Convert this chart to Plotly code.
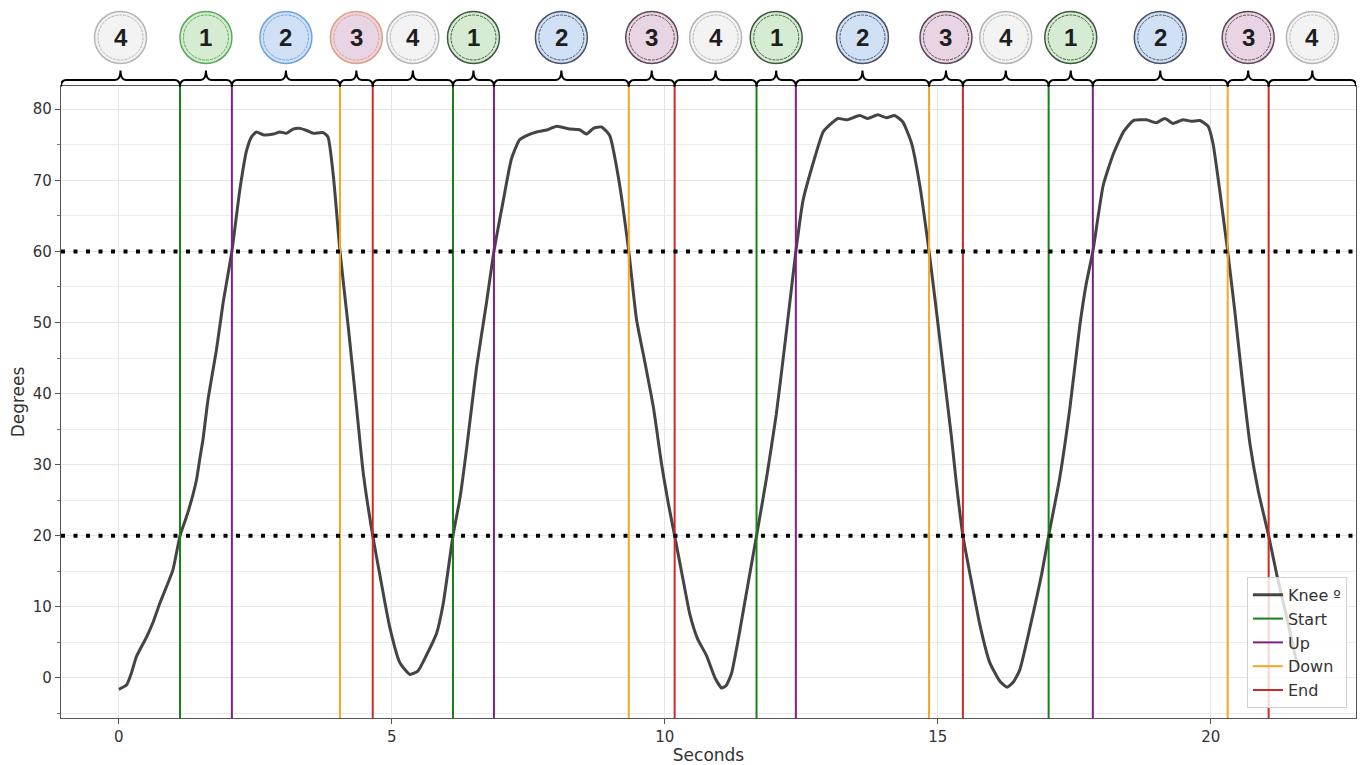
import plotly.graph_objects as go

# ---------------- data ----------------
seconds = [0.00, 0.14, 0.23, 0.32, 0.38, 0.51, 0.63, 0.75, 0.87, 0.99, 1.12, 1.24, 1.33, 1.42, 1.48, 1.54,
           1.63, 1.79, 1.91, 2.07, 2.22, 2.34, 2.43, 2.52, 2.64, 2.83, 2.95, 3.07, 3.19, 3.32, 3.44, 3.56,
           3.74, 3.83, 3.93, 4.05, 4.20, 4.35, 4.48, 4.65, 4.78, 4.96, 5.15, 5.33, 5.48, 5.64, 5.82, 5.94,
           6.12, 6.25, 6.37, 6.55, 6.73, 6.87, 7.04, 7.19, 7.34, 7.50, 7.65, 7.85, 8.02, 8.26, 8.44, 8.57,
           8.69, 8.84, 8.99, 9.15, 9.34, 9.48, 9.63, 9.79, 9.94, 10.06, 10.18, 10.33, 10.46, 10.60, 10.76,
           10.92, 11.04, 11.12, 11.22, 11.37, 11.53, 11.68, 11.86, 12.04, 12.20, 12.30, 12.40, 12.53, 12.72,
           12.90, 13.05, 13.17, 13.33, 13.57, 13.72, 13.90, 14.06, 14.21, 14.36, 14.52, 14.67, 14.84, 14.95,
           15.10, 15.25, 15.34, 15.46, 15.62, 15.77, 15.95, 16.14, 16.27, 16.38, 16.50, 16.75, 16.90, 17.03,
           17.23, 17.42, 17.60, 17.72, 17.84, 18.03, 18.21, 18.40, 18.58, 18.82, 19.00, 19.16, 19.31, 19.49,
           19.65, 19.80, 19.95, 20.04, 20.16, 20.31, 20.44, 20.57, 20.72, 20.87, 21.06, 21.21, 21.39, 21.54,
           21.60]
knee_deg = [-1.6, -1.0, 0.7, 3.0, 3.9, 5.8, 7.9, 10.5, 12.8, 15.2, 20.0, 22.7, 25.0, 27.8, 30.7, 33.5,
            39.0, 46.3, 52.8, 60.0, 68.9, 74.2, 76.1, 76.8, 76.4, 76.5, 76.8, 76.6, 77.2, 77.3, 77.0, 76.6,
            76.7, 76.1, 70.5, 60.0, 49.5, 38.3, 28.6, 20.0, 14.5, 7.2, 2.1, 0.5, 1.0, 3.3, 6.3, 10.4,
            20.0, 25.4, 32.3, 43.6, 52.6, 60.0, 67.1, 73.0, 75.7, 76.4, 76.8, 77.1, 77.6, 77.2, 77.1, 76.5,
            77.3, 77.5, 76.3, 70.4, 60.0, 50.5, 44.6, 38.1, 30.1, 24.7, 20.0, 14.0, 8.9, 5.5, 3.2,
            0.0, -1.4, -1.1, 0.6, 6.5, 13.5, 20.0, 28.0, 37.0, 47.0, 53.5, 60.0, 67.1, 72.5,
            76.8, 78.0, 78.7, 78.5, 79.1, 78.7, 79.2, 78.8, 79.1, 78.2, 75.2, 69.3, 60.0, 53.2,
            43.5, 33.9, 27.4, 20.0, 13.4, 7.5, 2.2, -0.5, -1.3, -0.6, 1.1, 9.2, 14.5, 20.0,
            28.0, 38.0, 49.5, 55.5, 60.0, 69.3, 73.6, 76.8, 78.4, 78.5, 78.1, 78.7, 78.0, 78.5,
            78.3, 78.4, 77.6, 75.2, 68.8, 60.0, 51.6, 42.4, 32.8, 26.3, 20.0, 14.5, 8.6, 3.3,
            1.5]

start_s = [1.12, 6.12, 11.68, 17.03]
up_s = [2.07, 6.87, 12.40, 17.84]
down_s = [4.05, 9.34, 14.84, 20.31]
end_s = [4.65, 10.18, 15.46, 21.06]

thresholds = [20, 60]
phase_labels = ["4", "1", "2", "3", "4", "1", "2", "3", "4", "1", "2", "3", "4", "1", "2", "3", "4"]

x_ticks = [0, 5, 10, 15, 20]
y_ticks = [0, 10, 20, 30, 40, 50, 60, 70, 80]

# ---------------- styling ----------------
XR = [-1.06, 22.66]
YR = [-5.63, 83.26]
FONT = "DejaVu Sans"
BODY = 8                      # default page margin around the figure div
PLOT_TOP, PLOT_H = 86, 632    # page pixels


def paper_y(px):
    return 1 + (PLOT_TOP - px) / PLOT_H


fig = go.Figure()
fig.add_trace(go.Scatter(x=seconds, y=knee_deg, mode="lines", name="Knee º",
                         line=dict(color="#444444", width=3, shape="spline", smoothing=0.5)))

events = [("Start", start_s, "#1a7f1a"), ("Up", up_s, "#7d1f86"),
          ("Down", down_s, "#f5a623"), ("End", end_s, "#cc2a2a")]
for name, ts, col in events:
    xs, ys = [], []
    for t in ts:
        xs += [t, t, None]
        ys += [YR[0], YR[1], None]
    fig.add_trace(go.Scatter(x=xs, y=ys, mode="lines", name=name,
                             line=dict(color=col, width=2)))

shapes = []
for th in thresholds:
    shapes.append(dict(type="line", xref="paper", yref="y", x0=0, x1=1, y0=th, y1=th,
                       line=dict(color="black", width=4, dash="4px,8.5px"), layer="above"))

# phase segments and braces
bounds = [XR[0]] + sorted(start_s + up_s + down_s + end_s) + [XR[1]]
yb, ym, yt = paper_y(86.5), paper_y(80), paper_y(70.5)
r = 0.1
fill = {"1": "#d6ecd2", "2": "#d0e0f5", "3": "#e8d4e2", "4": "#f3f3f3"}
ring_first = {"1": "#5aa85a", "2": "#6fa3dc", "3": "#e0a080", "4": "#b5b5b5"}
ring_later = {"1": "#3e5a3e", "2": "#4a5266", "3": "#5a4a55", "4": "#b5b5b5"}
annotations = []
cy = paper_y(37.5)
for i, lab in enumerate(phase_labels):
    a, b = bounds[i], bounds[i + 1]
    m = (a + b) / 2
    path = (f"M {a},{yb} Q {a},{ym} {a + r},{ym} L {m - r},{ym} Q {m},{ym} {m},{yt} "
            f"Q {m},{ym} {m + r},{ym} L {b - r},{ym} Q {b},{ym} {b},{yb}")
    shapes.append(dict(type="path", xref="x", yref="paper", path=path,
                       line=dict(color="black", width=2)))
    ring = ring_first[lab] if i < 4 else ring_later[lab]
    shapes.append(dict(type="circle", xref="x", yref="paper", xsizemode="pixel", ysizemode="pixel",
                       xanchor=m, yanchor=cy, x0=-26, x1=26, y0=-26, y1=26,
                       fillcolor=fill[lab], line=dict(color=ring, width=1.5)))
    shapes.append(dict(type="circle", xref="x", yref="paper", xsizemode="pixel", ysizemode="pixel",
                       xanchor=m, yanchor=cy, x0=-22.5, x1=22.5, y0=-22.5, y1=22.5,
                       line=dict(color=ring, width=1, dash="3px,1px")))
    annotations.append(dict(x=m, y=cy, xref="x", yref="paper", text=f"<b>{lab}</b>",
                            xanchor="center", yanchor="middle",
                            showarrow=False, font=dict(family="Liberation Sans", size=24, color="#1e1e1e")))

fig.update_layout(
    width=1365 - BODY, height=765 - BODY,
    margin=dict(l=61 - BODY, r=9, t=PLOT_TOP - BODY, b=47, autoexpand=False),
    paper_bgcolor="white", plot_bgcolor="white",
    font=dict(family=FONT, size=16, color="#333333"),
    shapes=shapes, annotations=annotations,
    legend=dict(x=0.993, y=0.016, xanchor="right", yanchor="bottom",
                bgcolor="rgba(255,255,255,0.8)", bordercolor="#d0d0d0", borderwidth=1,
                font=dict(family=FONT, size=16, color="#333333"), tracegroupgap=0),
    xaxis=dict(range=XR, tickvals=x_ticks, ticks="outside", ticklen=5, tickcolor="#555",
               showgrid=True, gridcolor="#e6e6e6", gridwidth=1, zeroline=False,
               showline=True, linecolor="#555", linewidth=1.3, mirror=True, automargin=False,
               title=dict(text="Seconds", standoff=0, font=dict(size=17)), tickfont=dict(size=15)),
    yaxis=dict(range=YR, tickvals=y_ticks, ticks="outside", ticklen=5, tickcolor="#555",
               showgrid=True, gridcolor="#e6e6e6", gridwidth=1, zeroline=False,
               showline=True, linecolor="#555", linewidth=1.3, mirror=True, automargin=False,
               minor=dict(dtick=5, tick0=0, ticks="outside", ticklen=3, tickcolor="#777",
                          showgrid=True, gridcolor="#ececec"),
               title=dict(text="Degrees", standoff=3, font=dict(size=17)), tickfont=dict(size=15)),
)

fig.write_html("out.html")
